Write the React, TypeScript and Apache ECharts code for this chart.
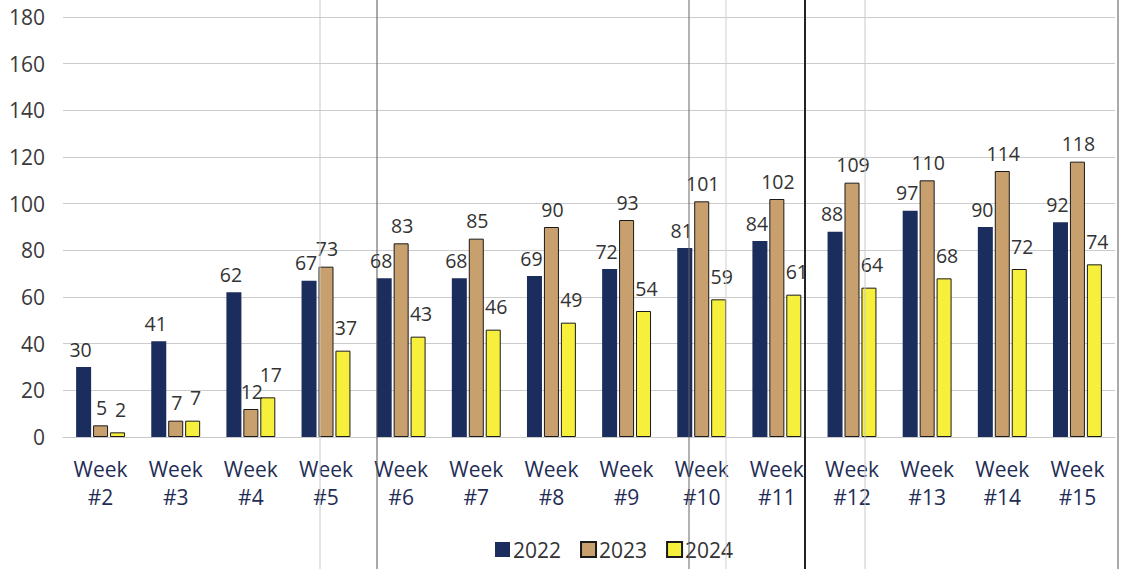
import React, { useEffect, useRef } from "react";
import * as echarts from "echarts";

const categories = ["Week\n#2", "Week\n#3", "Week\n#4", "Week\n#5", "Week\n#6", "Week\n#7", "Week\n#8", "Week\n#9", "Week\n#10", "Week\n#11", "Week\n#12", "Week\n#13", "Week\n#14", "Week\n#15"];
const values2022 = [30, 41, 62, 67, 68, 68, 69, 72, 81, 84, 88, 97, 90, 92];
const values2023 = [5, 7, 12, 73, 83, 85, 90, 93, 101, 102, 109, 110, 114, 118];
const values2024 = [2, 7, 17, 37, 43, 46, 49, 54, 59, 61, 64, 68, 72, 74];
const seriesNames = ["2022", "2023", "2024"];

// scan artifacts: vertical lines crossing the photocopied page
const scanLines = [
  { x: 320, color: "#c8c8c8", width: 1 },
  { x: 377, color: "#555555", width: 1 },
  { x: 689, color: "#666666", width: 1 },
  { x: 726, color: "#cfcfcf", width: 1 },
  { x: 805, color: "#222222", width: 2 },
  { x: 865, color: "#c8c8c8", width: 1 },
  { x: 1118, color: "#555555", width: 1 },
];

const FONT = "'Open Sans', 'Noto Sans', sans-serif";

export default function App() {
  const ref = useRef<HTMLDivElement>(null);
  useEffect(() => {
    if (!ref.current) return;
    const chart = echarts.init(ref.current, undefined, { renderer: "svg" });
    const label = {
      show: true,
      position: "top",
      fontFamily: FONT,
      fontSize: 19.5,
      color: "#333333",
    };
    const mk = (name: string, data: number[], color: string, border: boolean, lift: number, dx: number) => ({
      name,
      type: "bar",
      data,
      barWidth: 15,
      barGap: "13%",
      itemStyle: {
        color,
        borderColor: border ? "#1a1a1a" : color,
        borderWidth: border ? 1 : 0,
      },
      label: { ...label, distance: 8 + lift, offset: [dx, 0] },
    });
    chart.setOption({
      animation: false,
      backgroundColor: "#ffffff",
      textStyle: { fontFamily: FONT },
      grid: { left: 63, right: 9, top: 17, bottom: 132 },
      legend: {
        data: seriesNames,
        bottom: 4,
        left: 490,
        itemWidth: 15,
        itemHeight: 15,
        itemGap: 19,
        icon: "rect",
        textStyle: { fontFamily: FONT, fontSize: 21, color: "#333333", padding: [0, 0, 0, -2] },
      },
      xAxis: {
        type: "category",
        data: categories,
        axisLine: { show: true, lineStyle: { color: "#c8c8c8", width: 1 } },
        axisTick: { show: false },
        axisLabel: {
          fontFamily: FONT,
          fontSize: 21,
          color: "#1f2d55",
          lineHeight: 28,
          margin: 18,
          interval: 0,
        },
      },
      yAxis: {
        type: "value",
        min: 0,
        max: 180,
        interval: 20,
        axisLine: { show: false },
        axisTick: { show: false },
        axisLabel: { fontFamily: FONT, fontSize: 21, color: "#3a3a3a", margin: 18 },
        splitLine: { lineStyle: { color: "#cccccc", width: 1 } },
      },
      series: [
        mk(seriesNames[0], values2022, "#1b2d5c", false, 0, -3),
        mk(seriesNames[1], values2023, "#c8a06e", true, 0, 1),
        mk(seriesNames[2], values2024, "#f6f03c", true, 5, 3),
      ],
      graphic: scanLines.map((l) => ({
        type: "line",
        z: 100,
        silent: true,
        shape: { x1: l.x, y1: 0, x2: l.x, y2: 569 },
        style: { stroke: l.color, lineWidth: l.width },
      })),
    });
    return () => chart.dispose();
  }, []);
  return <div ref={ref} style={{ width: 1124, height: 569, position: "absolute", left: 0, top: 0 }} />;
}
